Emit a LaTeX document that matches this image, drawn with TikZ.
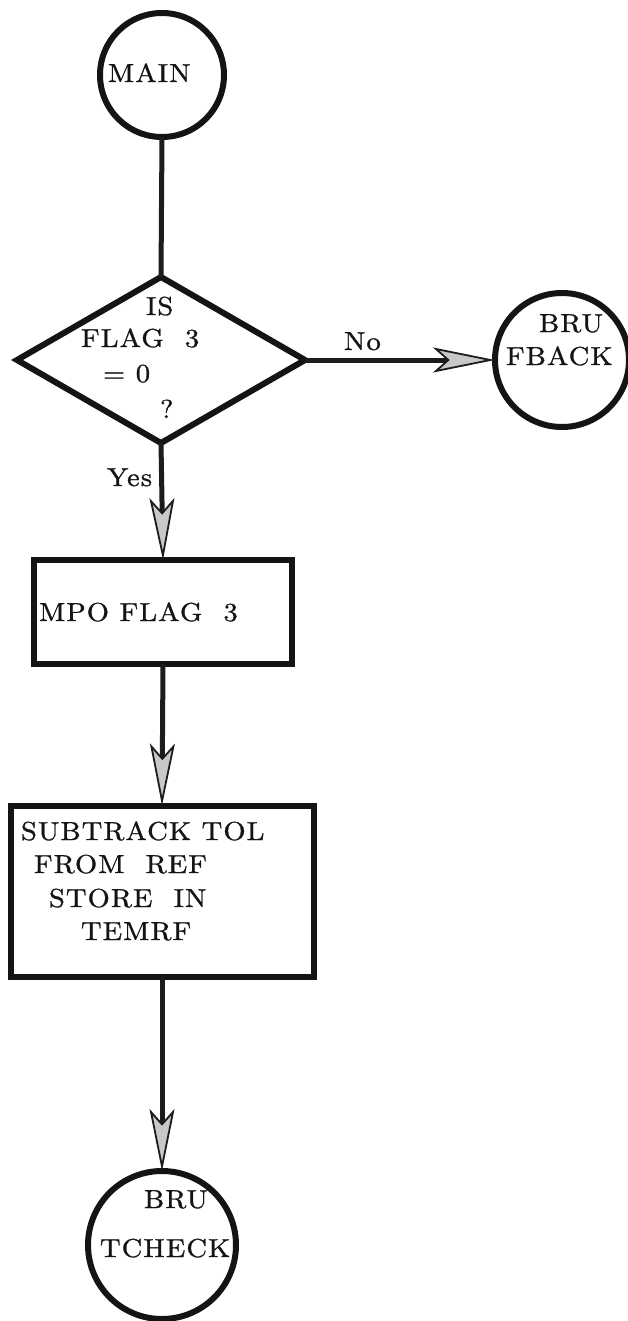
\documentclass[tikz,border=0pt]{standalone}
\usepackage{fontspec}
\usetikzlibrary{shapes.geometric,arrows.meta}
\newfontfamily\flowfam{lmroman10-regular.otf}[FakeStretch=1.1,LetterSpace=4,FakeBold=1]
\newcommand{\flowfont}{\flowfam\fontsize{26}{31}\selectfont}
\tikzset{
  flowline/.style={draw={rgb,255:red,28;green,28;blue,28},line width=5pt},
  flowarrow/.style={flowline,-{Stealth[length=62pt,width=25pt,inset=14pt,line width=1.8pt,fill={rgb,255:red,200;green,200;blue,200}]}},
  termcircle/.style={circle,draw={rgb,255:red,20;green,20;blue,20},line width=6pt,inner sep=0pt,outer sep=0pt},
  procbox/.style={rectangle,draw={rgb,255:red,20;green,20;blue,20},line width=6pt,inner sep=0pt,outer sep=0pt},
  decisionbox/.style={diamond,draw={rgb,255:red,20;green,20;blue,20},line width=6pt,inner sep=0pt,outer sep=0pt},
  flowtext/.style={inner sep=0pt,outer sep=0pt,anchor=base west,text={rgb,255:red,20;green,20;blue,20},font=\flowfont}
}
\begin{document}
\begin{tikzpicture}[x=1pt,y=-1pt]
\path[use as bounding box,fill=white] (0,0) rectangle (628,1321);
% shapes
\node[termcircle,minimum size=124pt] (main) at (162,75) {};
\node[decisionbox,minimum width=288pt,minimum height=166pt] (isflag) at (161,360) {};
\node[termcircle,minimum size=134pt] (fback) at (562,360) {};
\node[procbox,minimum width=258pt,minimum height=104pt] (mpoflag) at (163,612) {};
\node[procbox,minimum width=303pt,minimum height=171pt] (subtol) at (162,891) {};
\node[termcircle,minimum size=148pt] (tcheck) at (162,1245) {};
% texts
\node[flowtext] (mainlbl) at (108,82) {MAIN};
\node[flowtext] (islbl) at (146,315) {IS};
\node[flowtext] (flaglbl) at (81,347) {FLAG\ \ 3};
\node[flowtext] (eqlbl) at (103,382) {= 0};
\node[flowtext] (qlbl) at (160,418) {?};
\node[flowtext] (nolbl) at (344,350) {No};
\node[flowtext] (brulbl) at (539,332) {BRU};
\node[flowtext] (fbacklbl) at (506,365) {FBACK};
\node[flowtext] (yeslbl) at (107,486) {Yes};
\node[flowtext] (mpolbl) at (39,621) {MPO FLAG\ \ 3};
\node[flowtext] (sublbl) at (21,840) {SUBTRACK TOL};
\node[flowtext] (fromlbl) at (34,873) {FROM\ \ REF};
\node[flowtext] (storelbl) at (49,907) {STORE\ \ IN};
\node[flowtext] (temrflbl) at (81,940) {TEMRF};
\node[flowtext] (bru2lbl) at (144,1208) {BRU};
\node[flowtext] (tchecklbl) at (100,1257) {TCHECK};
% connectors
\draw[flowline] (main.south) -- (isflag.north);
\draw[flowarrow] (isflag.east) -- (fback.west);
\draw[flowarrow] (isflag.south) -- (mpoflag.north);
\draw[flowarrow] (mpoflag.south) -- (subtol.north);
\draw[flowarrow] (subtol.south) -- (tcheck.north);
\end{tikzpicture}
\end{document}
